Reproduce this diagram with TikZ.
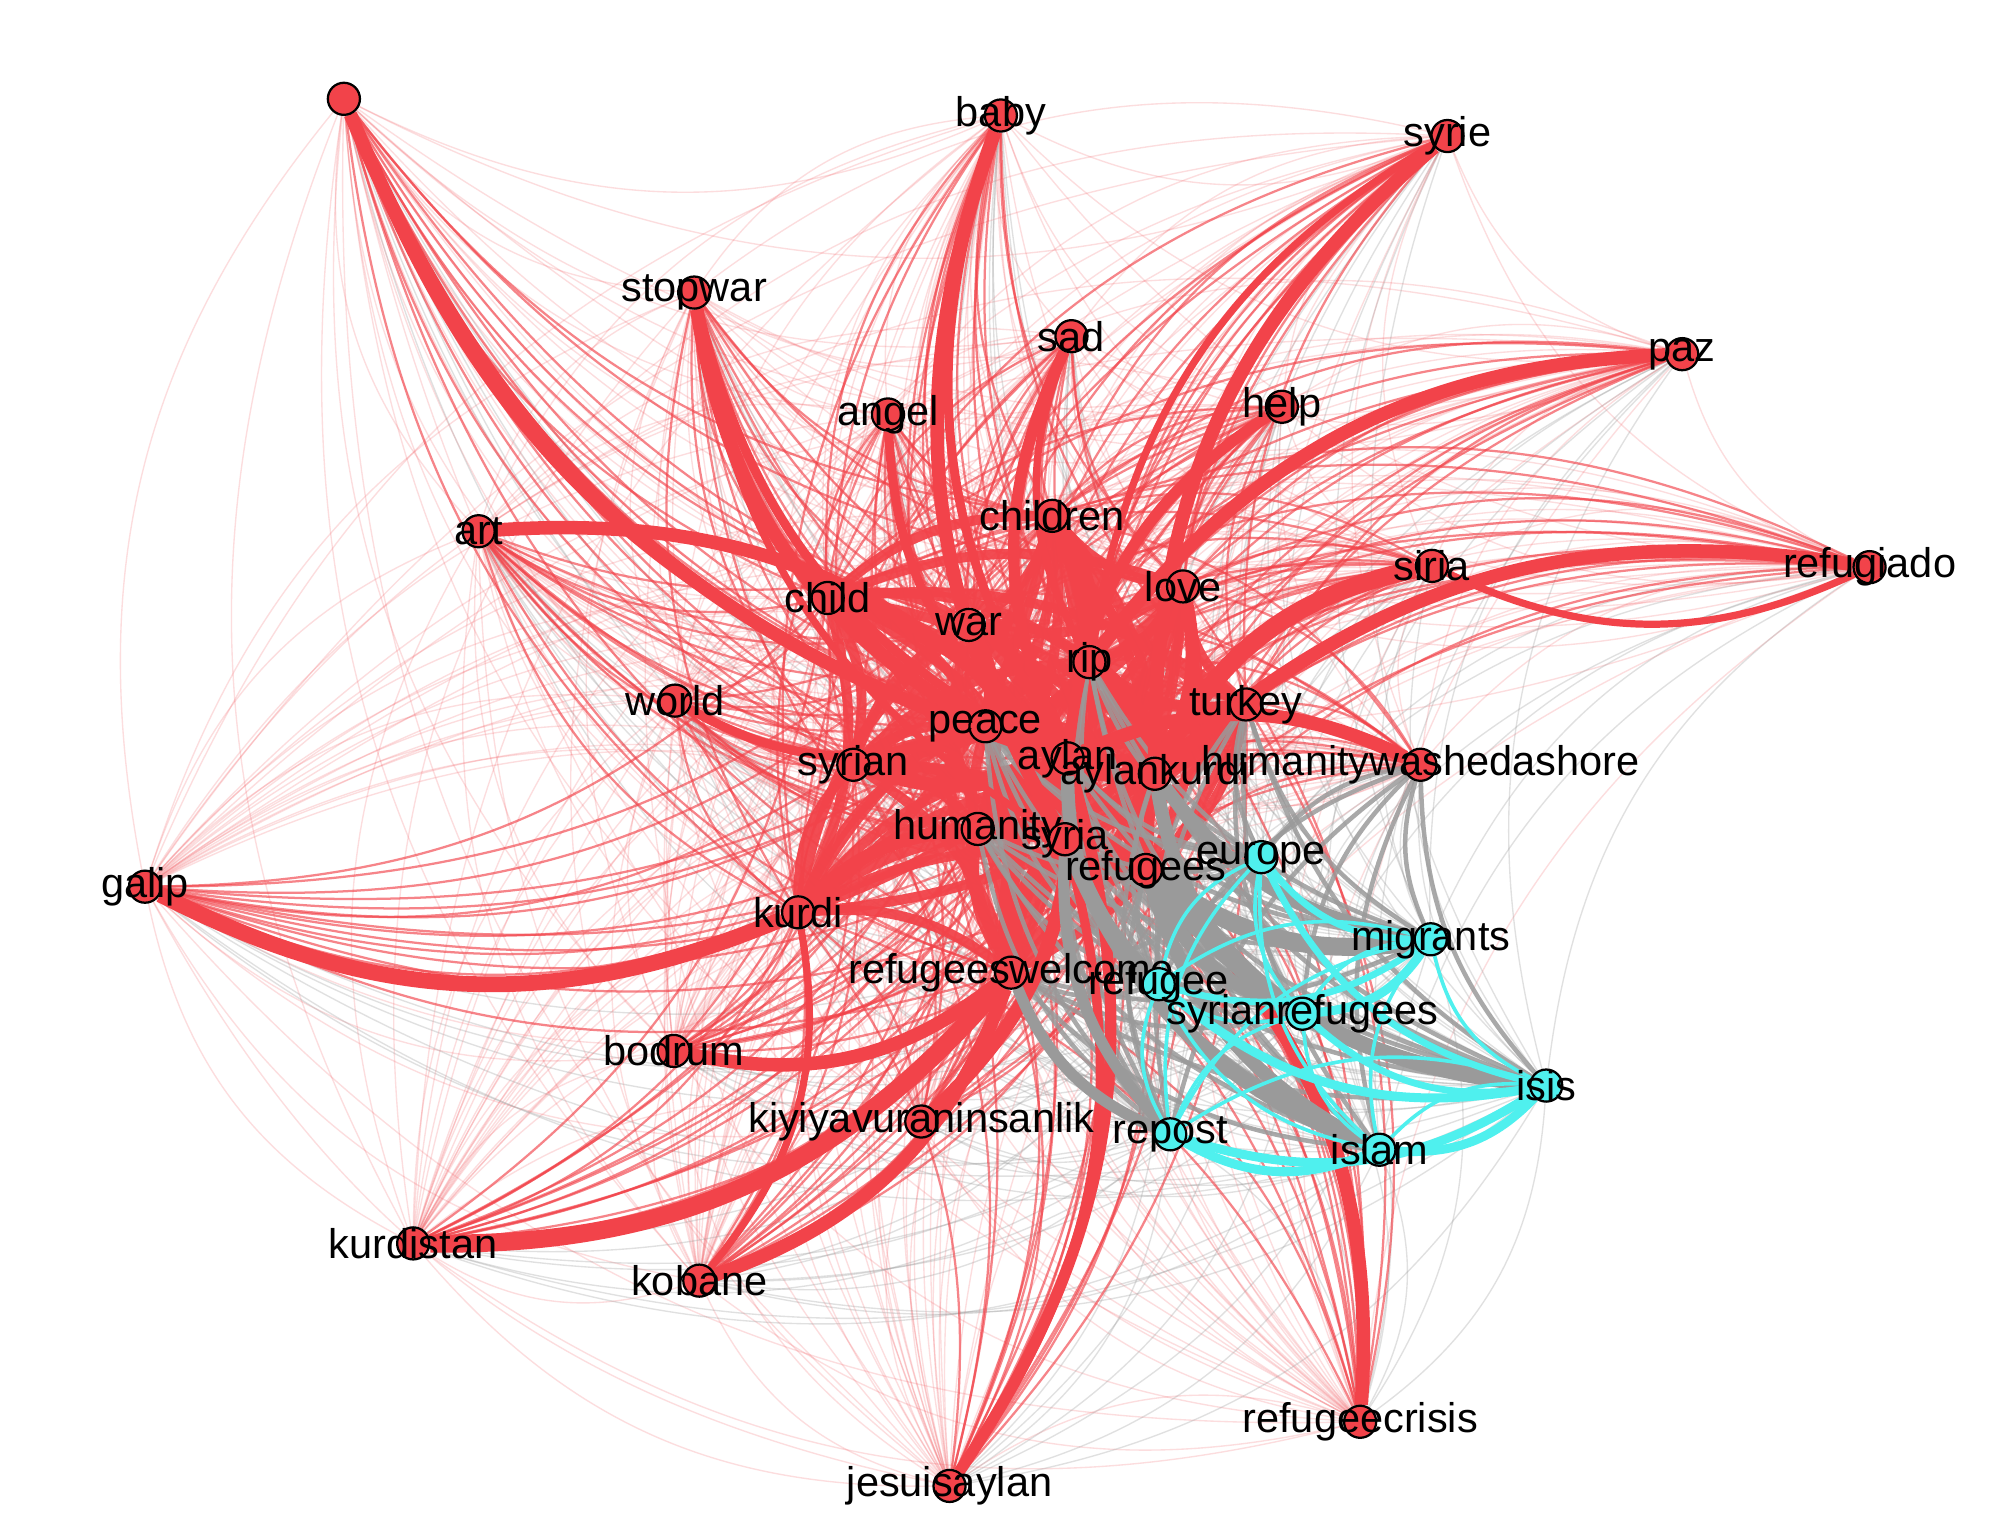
\documentclass[tikz,border=0pt]{standalone}
\usepackage{fontspec}
\setmainfont{Liberation Sans}
\usetikzlibrary{positioning}
\definecolor{hot}{HTML}{F2434A}
\definecolor{cool}{HTML}{4FF0EE}
\definecolor{ash}{HTML}{9A9A9A}
\pgfdeclarelayer{paper}
\pgfdeclarelayer{edges}
\pgfsetlayers{paper,edges,main}
% word groups
\def\reds{unk,baby,syrie,stopwar,sad,paz,angel,help,art,children,refugiado,siria,love,child,war,rip,world,turkey,peace,syrian,aylan,aylankurdi,hwas,humanity,syria,refugees,galip,kurdi,rwelcome,bodrum,kiyi,kurdistan,kobane,rcrisis,jesuis}
\def\rim{unk,baby,syrie,stopwar,sad,paz,angel,help,art,refugiado,siria,world,galip,hwas,bodrum,kiyi,kurdistan,kobane,rcrisis,jesuis}
\def\hubs{aylan,aylankurdi,syria,refugees,humanity,peace,rip,war,rwelcome,syrian,kurdi,children,love,turkey,child}
\def\cyans{europe,migrants,refugee,srefugees,isis,repost,islam}

\begin{document}
\begin{tikzpicture}[x=0.01cm,y=-0.01cm,
 tag/.style={circle,draw=black,line width=0.5pt,fill=hot,minimum size=0.25cm,inner sep=0pt,
  label={[font=\fontsize{9.2}{9}\selectfont,inner sep=0pt]center:#1}},
 cyantag/.style={tag=#1,fill=cool},
 wisp/.style={draw=hot,opacity=0.18,line width=0.3pt},
 greywisp/.style={draw=ash,opacity=0.3,line width=0.3pt},
 strand/.style={draw=hot,opacity=0.65,line width=0.5pt},
 greystrand/.style={draw=ash,opacity=0.85,line width=1pt},
 cord/.style={draw=hot,opacity=0.95,line width=2.2pt},
 band/.style={draw=hot,line width=#1},
 greyband/.style={draw=ash,line width=#1},
 cyanband/.style={draw=cool,line width=#1}]
\useasboundingbox (0,0) rectangle (1568,1199);
\begin{pgfonlayer}{paper}
\fill[white] (0,0) rectangle (1568,1199);
\end{pgfonlayer}

% outer ring
\node[tag={}] (unk) at (268,77) {};
\node[tag=baby] (baby) at (780,90) {};
\node[tag=syrie] (syrie) at (1128,106) {};
\node[tag=stopwar] (stopwar) at (541,228) {};
\node[tag=sad] (sad) at (835,262) {};
\node[tag=paz] (paz) at (1311,276) {};
\node[tag=angel] (angel) at (692,323) {};
\node[tag=help] (help) at (999,317) {};
\node[tag=art] (art) at (373,414) {};
\node[tag=refugiado] (refugiado) at (1457,442) {};
\node[tag=siria] (siria) at (1116,441) {};
\node[tag=world] (world) at (526,546) {};
\node[tag=galip] (galip) at (113,691) {};
\node[tag=bodrum] (bodrum) at (525,819) {};
\node[tag=kiyiyavuraninsanlik] (kiyi) at (718,874) {};
\node[tag=kurdistan] (kurdistan) at (322,969) {};
\node[tag=kobane] (kobane) at (545,998) {};
\node[tag=refugeecrisis] (rcrisis) at (1060,1108) {};
\node[tag=jesuisaylan] (jesuis) at (740,1158) {};
% core
\node[tag=children] (children) at (820,402) {};
\node[tag=love] (love) at (922,457) {};
\node[tag=child] (child) at (645,466) {};
\node[tag=war] (war) at (755,487) {};
\node[tag=rip] (rip) at (849,516) {};
\node[tag=turkey] (turkey) at (971,549) {};
\node[tag=peace] (peace) at (768,566) {};
\node[tag=syrian] (syrian) at (665,596) {};
\node[tag=aylan] (aylan) at (832,591) {};
\node[tag=aylankurdi] (aylankurdi) at (900,603) {};
\node[tag=humanitywashedashore] (hwas) at (1107,596) {};
\node[tag=humanity] (humanity) at (762,646) {};
\node[tag=syria] (syria) at (830,654) {};
\node[tag=refugees] (refugees) at (893,678) {};
\node[tag=kurdi] (kurdi) at (622,711) {};
\node[tag=refugeeswelcome] (rwelcome) at (788,758) {};
% cyan group
\node[cyantag=europe] (europe) at (983,668) {};
\node[cyantag=migrants] (migrants) at (1115,732) {};
\node[cyantag=refugee] (refugee) at (903,767) {};
\node[cyantag=syrianrefugees] (srefugees) at (1015,790) {};
\node[cyantag=isis] (isis) at (1205,846) {};
\node[cyantag=repost] (repost) at (912,884) {};
\node[cyantag=islam] (islam) at (1075,896) {};

\begin{pgfonlayer}{edges}
% faint web
\foreach \a [count=\i] in \reds {
 \foreach \b [count=\j] in \reds {
  \ifnum\i<\j \draw[wisp] (\a) to[bend right=25] (\b); \fi
 }
}
\foreach \a in \cyans {
 \foreach \b in \reds {\draw[greywisp] (\b) to[bend right=25] (\a);}
}
% rim to core
\foreach \a in \rim {
 \foreach \b in \hubs {\draw[strand] (\a) to[bend right=22] (\b);}
}
\foreach \a [count=\i] in \hubs {
 \foreach \b [count=\j] in \hubs {
  \ifnum\i<\j \draw[cord] (\a) to[bend right=20] (\b); \fi
 }
}
\foreach \a/\b/\w in {aylan/syria/5pt,aylan/peace/4pt,aylankurdi/rip/4pt,
 syria/rwelcome/4pt,aylan/rwelcome/4pt,peace/war/3pt,humanity/kurdi/3pt,
 aylan/children/3pt,rip/children/3pt,aylankurdi/love/3pt,syrian/aylan/3pt}
 {\draw[band=\w] (\a) to[bend right=20] (\b);}
\foreach \a in \cyans {
 \foreach \b in {aylan,aylankurdi,syria,refugees,rwelcome,humanity,rip,peace,turkey,hwas}
  {\draw[greystrand] (\b) to[bend right=20] (\a);}
}
% heavy ties
\foreach \a/\b/\w in {unk/aylan/3pt,unk/peace/1.4pt,stopwar/peace/3pt,stopwar/aylan/2pt,
 stopwar/syria/1.6pt,aylan/art/3pt,baby/syria/3pt,baby/aylan/2pt,sad/aylan/2.5pt,
 sad/rip/1.6pt,help/aylan/2.5pt,angel/aylan/2pt,paz/rip/3pt,syrie/aylankurdi/3pt,
 syrie/rip/1.6pt,refugiado/aylankurdi/3pt,siria/aylankurdi/4pt,siria/refugiado/1.6pt,
 hwas/aylan/3pt,world/peace/2pt,galip/kurdi/3.5pt,kurdistan/rwelcome/4pt,
 kobane/rwelcome/3pt,kobane/kurdi/1.6pt,bodrum/rwelcome/3pt,kiyi/aylan/3pt,
 jesuis/aylan/2.5pt,jesuis/syria/2pt,rcrisis/refugees/3pt}
 {\draw[band=\w] (\a) to[bend right=25] (\b);}
\foreach \a/\b/\w in {refugees/migrants/4pt,refugees/isis/3.5pt,syria/islam/3.5pt,
 aylankurdi/srefugees/3pt,rwelcome/repost/2.5pt,aylan/refugee/3pt,
 refugees/srefugees/3pt,aylankurdi/migrants/3pt,syria/repost/2.5pt,refugees/islam/3pt}
 {\draw[greyband=\w] (\a) to[bend right=22] (\b);}
% cyan ties
\foreach \a [count=\i] in \cyans {
 \foreach \b [count=\j] in \cyans {
  \ifnum\i<\j \draw[cyanband=0.8pt] (\a) to[bend right=25] (\b); \fi
 }
}
\foreach \a/\b/\w in {repost/islam/2pt,repost/isis/2pt,refugee/isis/2pt,
 srefugees/isis/1.5pt,srefugees/migrants/2pt,islam/isis/2pt,europe/migrants/1.5pt,
 europe/isis/1.5pt,refugee/migrants/1.5pt}
 {\draw[cyanband=\w] (\a) to[bend right=25] (\b);}
\end{pgfonlayer}
\end{tikzpicture}
\end{document}
